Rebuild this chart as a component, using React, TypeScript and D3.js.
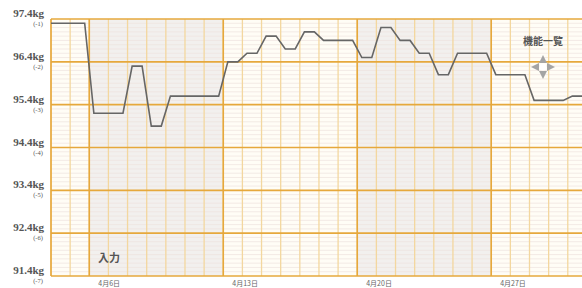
import React from 'react'
import * as d3 from 'd3'

// 日ごとの体重 (4月4日〜5月1日)
const dayLabels = [
    '4/4', '4/5', '4/6', '4/7', '4/8', '4/9', '4/10', '4/11', '4/12', '4/13',
    '4/14', '4/15', '4/16', '4/17', '4/18', '4/19', '4/20', '4/21', '4/22', '4/23',
    '4/24', '4/25', '4/26', '4/27', '4/28', '4/29', '4/30', '5/1',
]
const weights = [
    97.3, 97.3, 95.2, 95.2, 96.3, 94.9, 95.6, 95.6, 95.6, 96.4,
    96.6, 97.0, 96.7, 97.1, 96.9, 96.9, 96.5, 97.2, 96.9, 96.6,
    96.1, 96.6, 96.6, 96.1, 96.1, 95.5, 95.5, 95.6,
]
const yTicks = [97.4, 96.4, 95.4, 94.4, 93.4, 92.4, 91.4]
const yOffsets = ['(-1)', '(-2)', '(-3)', '(-4)', '(-5)', '(-6)', '(-7)']
const weekStarts = [2, 9, 16, 23]
const weekLabels = ['4月6日', '4月13日', '4月20日', '4月27日']
const shadedWeeks = [2, 16]

const W = 582
const H = 288
const left = 51
const top = 19
const bottom = 276
const dayW = 19.14

export default function App() {
    const x = d3.scaleLinear().domain([0, dayLabels.length]).range([left, left + dayLabels.length * dayW])
    const y = d3.scaleLinear().domain([91.4, 97.4]).range([bottom, top])

    // 各日のフラット区間の両端を点にする
    const pts: [number, number][] = []
    weights.forEach((w, i) => {
        pts.push([i === 0 ? x(0) : x(i + 0.24), y(w)])
        pts.push([x(i + 0.76), y(w)])
    })
    const line = d3.line()
    const minor = d3.range(914, 975).map((v) => v / 10).filter((v) => Math.round(v * 10) % 10 !== 4)
    const days = d3.range(0, dayLabels.length + 1)
    const orange = '#e6a83c'
    const serif = 'Liberation Serif, DejaVu Serif, serif'

    return (
        <div style={{ position: 'fixed', left: 0, top: 0 }}>
            <svg width={W} height={H} style={{ display: 'block', background: '#fff' }}>
                <defs>
                    <clipPath id="plot">
                        <rect x={left} y={top - 2} width={W - left} height={bottom - top + 4} />
                    </clipPath>
                </defs>
                {/* 背景 */}
                <rect x={left} y={top} width={W - left} height={bottom - top} fill="#fffdf6" />
                {shadedWeeks.map((s) => (
                    <rect key={s} x={x(s)} y={top} width={x(s + 7) - x(s)} height={bottom - top} fill="#f2f0ee" />
                ))}
                {/* 細かい横線 */}
                {minor.map((v) => (
                    <line key={v} x1={left} x2={W} y1={y(v)} y2={y(v)} stroke="#eee3de" strokeWidth={0.7} />
                ))}
                {/* 日ごとの縦線 */}
                {days.map((d) => (
                    <line key={d} x1={x(d)} x2={x(d)} y1={top} y2={bottom} stroke="#f3d79f" strokeWidth={1.3} />
                ))}
                {/* 主横線 */}
                {yTicks.map((v) => (
                    <line key={v} x1={left} x2={W} y1={y(v)} y2={y(v)} stroke={orange} strokeWidth={1.6} />
                ))}
                {/* 週の区切り */}
                {[0, ...weekStarts].map((d) => (
                    <line key={d} x1={x(d)} x2={x(d)} y1={top} y2={bottom} stroke={orange} strokeWidth={1.6} />
                ))}
                <path d={line(pts) ?? ''} fill="none" stroke="#666" strokeWidth={1.6} clipPath="url(#plot)" />

                {/* Y軸ラベル */}
                {yTicks.map((v, i) => (
                    <g key={v} fill="#555" fontFamily={serif}>
                        <text x={44} y={y(v) - 2} textAnchor="end" fontSize={11} fontWeight="bold">
                            {v.toFixed(1)}kg
                        </text>
                        <text x={38} y={y(v) + 7} textAnchor="middle" fontSize={6.5}>
                            {yOffsets[i]}
                        </text>
                    </g>
                ))}
                {/* 日付ラベル */}
                {weekStarts.map((d, i) => (
                    <text key={d} x={x(d) + 9} y={286} fontSize={7} fill="#666" fontFamily="'Noto Sans CJK JP', sans-serif">
                        {weekLabels[i]}
                    </text>
                ))}
                <text x={98} y={262} fontSize={11} fill="#555" fontWeight="bold" fontFamily="'Noto Sans CJK JP', sans-serif">
                    入力
                </text>
                <text x={543} y={45} textAnchor="middle" fontSize={10} fill="#555" fontWeight="bold" fontFamily="'Noto Sans CJK JP', sans-serif">
                    機能一覧
                </text>
                {/* 移動アイコン */}
                <g transform="translate(543,67)" fill="#a4a4a4">
                    <path d="M0,-12 L-4,-4 L4,-4 Z" />
                    <path d="M0,12 L-4,4 L4,4 Z" />
                    <path d="M-12,0 L-4,-4 L-4,4 Z" />
                    <path d="M12,0 L4,-4 L4,4 Z" />
                    <circle r={3.5} fill="#fff" />
                </g>
            </svg>
        </div>
    )
}
